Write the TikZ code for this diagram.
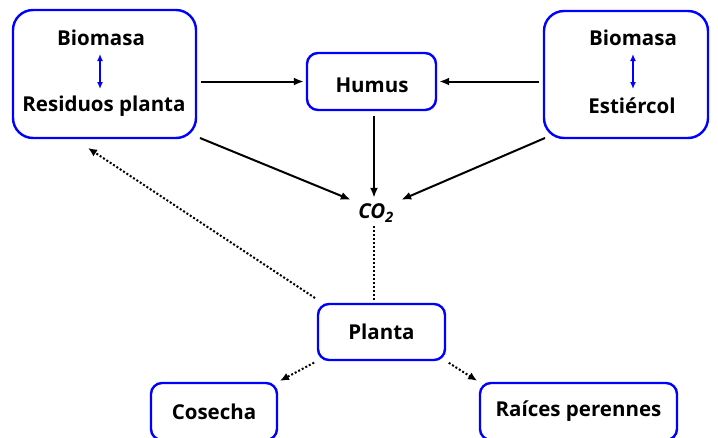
\documentclass[tikz,border=0pt]{standalone}
\usepackage{fontspec}
\setmainfont{Open Sans}
\usetikzlibrary{arrows.meta}
\begin{document}
\begin{tikzpicture}[x=1pt,y=-1pt,
  box/.style={draw=blue,line width=2.4pt,rounded corners=#1,inner sep=0pt},
  box/.default=11pt,
  lbl/.style={font=\fontsize{20.5}{24}\selectfont\bfseries,inner sep=1pt},
  flow/.style={line width=2pt,-{Latex[length=10pt,width=8pt]}},
  dots/.style={line width=2pt,dotted},
  dflow/.style={dots,-{Latex[length=9pt,width=8pt]}},
  swap/.style={blue,line width=1.8pt,{Latex[length=7pt,width=6pt]}-{Latex[length=7pt,width=6pt]}}]
\useasboundingbox (0,0) rectangle (718,437);
\clip (0,0) rectangle (718,437);

% source boxes
\node[box=20pt,minimum width=183pt,minimum height=128pt] (left) at (104.5,74) {};
\node[lbl] (bioL) at (101,38) {Biomasa};
\node[lbl] (resid) at (104,106) {Residuos planta};
\coordinate (aLt) at (100,54);
\coordinate (aLb) at (100,89);
\draw[swap] (aLt) -- (aLb);

\node[box=20pt,minimum width=164pt,minimum height=127pt] (right) at (626,74.5) {};
\node[lbl] (bioR) at (633,38) {Biomasa};
\node[lbl] (estier) at (632,106) {Estiércol};
\coordinate (aRt) at (633,54);
\coordinate (aRb) at (633,89);
\draw[swap] (aRt) -- (aRb);

% humus and CO2
\node[box,minimum width=129pt,minimum height=57pt] (humus) at (371.5,81.5) {};
\node[lbl] (humusT) at (372,85) {Humus};
\node[lbl,font=\fontsize{20.5}{24}\selectfont\bfseries\itshape,minimum width=50pt,minimum height=26pt] (co2) at (376,213) {CO\textsubscript{2}};

% plant and its products
\node[box,minimum width=127pt,minimum height=56pt,lbl] (planta) at (381.5,332) {Planta};
\node[box,minimum width=126pt,minimum height=57pt,lbl] (cosecha) at (214,411.5) {Cosecha};
\node[box,minimum width=197pt,minimum height=57pt,lbl] (raices) at (578.5,411.5) {Raíces perennes};

% carbon flows
\draw[flow,shorten <=4pt,shorten >=2pt] (left.east |- humus.west) -- (humus.west);
\draw[flow,shorten <=4pt,shorten >=2pt] (right.west |- humus.east) -- (humus.east);
\draw[flow,shorten <=5pt,shorten >=2pt] (humus.south) ++(2.5,0) -- (co2.north -| 374,0);
\draw[flow] (200,138) -- (co2.north west);
\draw[flow] (545,138) -- (co2.north east);

% plant links
\coordinate (pTop) at (374,300);
\draw[dots] (co2.south -| pTop) -- (pTop);
\coordinate (pTL) at (315,298);
\coordinate (lTgt) at (88,148);
\draw[dflow] (pTL) -- (lTgt);
\draw[dflow,shorten <=3pt,shorten >=2pt] (planta.south west) -- (cosecha.north east);
\draw[dflow,shorten <=3pt,shorten >=2pt] (planta.south east) -- (raices.north west);
\end{tikzpicture}
\end{document}
